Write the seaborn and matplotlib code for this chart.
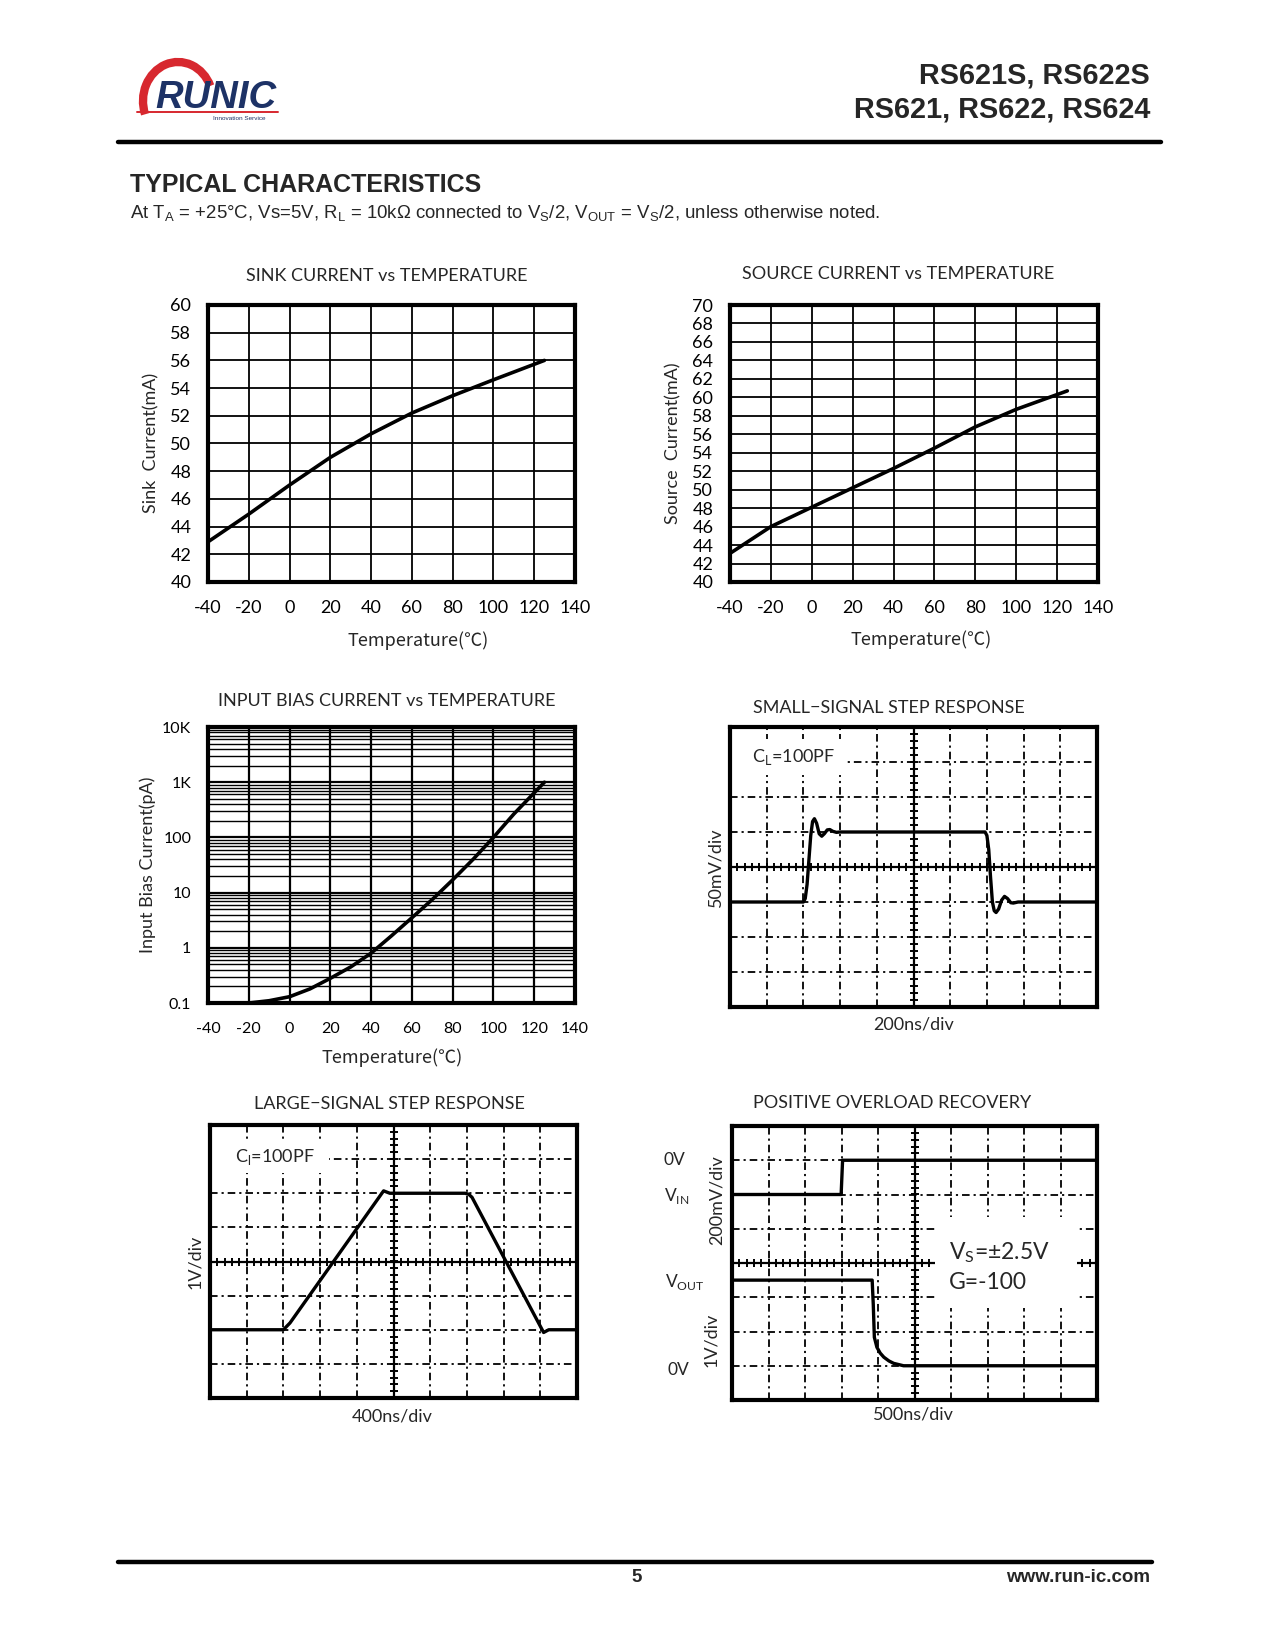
import numpy as np
import matplotlib
matplotlib.use("Agg")
import matplotlib.pyplot as plt
import matplotlib.patches as mpatches
from matplotlib.ticker import LogLocator, NullFormatter
import seaborn as sns

# ---- values ----
temp = [-40, -20, 0, 20, 40, 60, 80, 100, 125]
sink_ma = [42.9, 44.9, 47.0, 49.0, 50.7, 52.2, 53.45, 54.6, 56.0]
source_ma = [43.1, 46.0, 48.1, 50.2, 52.3, 54.5, 56.8, 58.7, 60.7]

bias_temp = [-20, -10, 0, 10, 20, 30, 40, 50, 60, 70, 80, 90, 100, 110, 125]
bias_pa = [0.1, 0.11, 0.13, 0.18, 0.28, 0.45, 0.8, 1.65, 3.5, 7.5, 17, 40, 100, 265, 1000]

temp_ticks = [-40, -20, 0, 20, 40, 60, 80, 100, 120, 140]
sink_ticks = list(range(40, 61, 2))
source_ticks = list(range(40, 71, 2))
bias_ticks = [0.1, 1, 10, 100, 1000, 10000]
bias_labels = ["0.1", "1", "10", "100", "1K", "10K"]

# scope traces in screen divisions (x 0..10, y -4..4, 0 = centre line)
small_t = [0, 2.0, 2.05, 2.1, 2.15, 2.2, 2.25, 2.3, 2.36, 2.43, 2.5, 2.57, 2.65, 2.72, 2.8, 2.9, 3.0,
           6.95, 7.0, 7.05, 7.1, 7.15, 7.2, 7.25, 7.32, 7.4, 7.48, 7.56, 7.65, 7.72, 7.85, 10]
small_v = [-1, -1, -0.9, -0.5, 0.2, 0.9, 1.3, 1.38, 1.25, 0.95, 0.88, 0.95, 1.06, 1.07, 1.02, 0.99, 1.0,
           1.0, 0.9, 0.5, -0.3, -1.0, -1.25, -1.3, -1.2, -0.95, -0.84, -0.9, -1.02, -1.03, -1.0, -1]

large_t = [0, 2.0, 2.18, 4.73, 4.9, 6.95, 7.05, 7.14, 9.09, 9.23, 10]
large_v = [-2, -2, -1.8, 2.07, 2.0, 2.0, 1.97, 1.88, -2.08, -2.0, -2.0]

ovl_in_t = [0, 2.99, 3.03, 10]
ovl_in_v = [2, 2, 3, 3]
ovl_out_t = [0, 3.84, 3.87, 3.9, 3.97, 4.06, 4.16, 4.3, 4.43, 4.7, 10]
ovl_out_v = [-0.5, -0.5, -1.2, -2.17, -2.46, -2.63, -2.75, -2.86, -2.93, -3.0, -3.0]

sns.set_theme(style="white")
plt.rcParams["font.family"] = ["Lato", "Noto Sans CJK SC", "DejaVu Sans"]
HEAD = ["Liberation Sans", "DejaVu Sans"]
CJK = ["Noto Sans CJK SC", "DejaVu Sans"]

W, H = 1275, 1651
fig = plt.figure(figsize=(W / 100, H / 100), dpi=100)
bg = fig.add_axes([0, 0, 1, 1])
bg.set_xlim(0, W)
bg.set_ylim(H, 0)
bg.set_axis_off()


def place(l, t, r, b):
    return fig.add_axes([l / W, 1 - b / H, (r - l) / W, (b - t) / H])


# ---- logo ----
red, navy = "#d7282f", "#1d3266"
bg.add_patch(mpatches.Arc((178, 101), 70, 78, theta1=158, theta2=335, lw=6, color=red))
bg.plot([137, 278], [112, 112], color=red, lw=1.4)
bg.text(155, 108, "RUNIC", color=navy, fontsize=27.5, fontweight="bold", fontstyle="italic",
        family=HEAD, va="baseline")
bg.text(213, 118.5, "Innovation Service", color=navy, fontsize=4.6, family=HEAD, va="center")

# ---- header / footer ----
bg.text(1150, 76, "RS621S, RS622S", ha="right", va="center", fontsize=20.8, fontweight="bold", family=HEAD)
bg.text(1150, 109, "RS621, RS622, RS624", ha="right", va="center", fontsize=20.8, fontweight="bold", family=HEAD)
bg.plot([118, 1161], [142.5, 142.5], color="black", lw=3.2)
bg.text(130, 185, "TYPICAL CHARACTERISTICS", va="center", fontsize=18, fontweight="bold", family=HEAD)
bg.text(130, 214, r"At T$_\mathregular{A}$ = +25°C, Vs=5V, R$_\mathregular{L}$ = 10kΩ connected to "
        r"V$_\mathregular{S}$/2, V$_\mathregular{OUT}$ = V$_\mathregular{S}$/2, unless otherwise noted.",
        va="center", fontsize=13.4, family=HEAD)
bg.plot([118, 1152], [1562, 1562], color="black", lw=3.2)
bg.text(637, 1578, "5", ha="center", va="center", fontsize=13.5, fontweight="bold", family=HEAD)
bg.text(1150, 1578, "www.run-ic.com", ha="right", va="center", fontsize=13.5, fontweight="bold", family=HEAD)


def frame(ax):
    for s in ax.spines.values():
        s.set_visible(True)
        s.set_linewidth(3)
        s.set_color("black")


def curve_axes(ax, yticks, ylabels, ylim, fs):
    frame(ax)
    ax.set_xlim(-40, 140)
    ax.set_ylim(*ylim)
    ax.set_xticks(temp_ticks, labels=[str(t) for t in temp_ticks])
    ax.set_yticks(yticks, labels=ylabels)
    ax.tick_params(length=0, labelsize=fs, colors="black")
    ax.tick_params(axis="x", pad=13)
    ax.tick_params(axis="y", pad=12)
    ax.grid(True, color="black", lw=1.3)
    ax.set_xlabel("")
    ax.set_ylabel("")


# ---- sink current ----
ax1 = place(208, 305, 575, 582)
sns.lineplot(x=temp, y=sink_ma, ax=ax1, color="black", lw=2.6)
curve_axes(ax1, sink_ticks, [str(v) for v in sink_ticks], (40, 60), 13)
bg.text(387, 276, "SINK CURRENT vs TEMPERATURE", ha="center", va="center", fontsize=13)
bg.text(418, 641, "Temperature(℃)", ha="center", va="center", fontsize=13, family=CJK)
bg.text(151, 443, "Sink  Current(mA)", ha="center", va="center", rotation=90, fontsize=13)

# ---- source current ----
ax2 = place(730, 305, 1098, 582)
sns.lineplot(x=temp, y=source_ma, ax=ax2, color="black", lw=2.6)
curve_axes(ax2, source_ticks, [str(v) for v in source_ticks], (40, 70), 13)
bg.text(898, 274, "SOURCE CURRENT vs TEMPERATURE", ha="center", va="center", fontsize=13)
bg.text(921, 640, "Temperature(℃)", ha="center", va="center", fontsize=13, family=CJK)
bg.text(673, 443, "Source  Current(mA)", ha="center", va="center", rotation=90, fontsize=13)

# ---- input bias current ----
ax3 = place(208, 727, 575, 1003)
sns.lineplot(x=bias_temp, y=bias_pa, ax=ax3, color="black", lw=2.6)
ax3.set_yscale("log")
curve_axes(ax3, bias_ticks, bias_labels, (0.1, 10000), 11.5)
ax3.tick_params(axis="x", pad=14)
ax3.yaxis.set_minor_locator(LogLocator(base=10, subs=np.arange(2, 10)))
ax3.yaxis.set_minor_formatter(NullFormatter())
ax3.tick_params(which="minor", length=0)
ax3.grid(True, which="minor", axis="y", color="black", lw=1.0)
ax3.grid(True, which="major", color="black", lw=1.6)
bg.text(387, 701, "INPUT BIAS CURRENT vs TEMPERATURE", ha="center", va="center", fontsize=13)
bg.text(392, 1058, "Temperature(℃)", ha="center", va="center", fontsize=13, family=CJK)
bg.text(148, 865, "Input Bias Current(pA)", ha="center", va="center", rotation=90, fontsize=13)

DASHDOT = (0, (4.2, 2.2, 1.2, 2.2))


def scope(ax, boxes):
    frame(ax)
    ax.set_xlim(0, 10)
    ax.set_ylim(-4, 4)
    ax.set_xticks([])
    ax.set_yticks([])
    for x in [1, 2, 3, 4, 6, 7, 8, 9]:
        ax.axvline(x, color="black", lw=1.3, ls=DASHDOT, zorder=1)
    for y in [-3, -2, -1, 1, 2, 3]:
        ax.axhline(y, color="black", lw=1.3, ls=DASHDOT, zorder=1)
    ax.axhline(0, color="black", lw=1.6, zorder=1)
    ax.axvline(5, color="black", lw=1.6, zorder=1)
    xm = np.arange(0.2, 10, 0.2)
    ym = np.arange(-3.8, 4, 0.2)
    ax.plot(xm, np.zeros_like(xm), ls="none", marker="|", ms=6, mew=1.4, color="black", zorder=1)
    ax.plot(np.full_like(ym, 5), ym, ls="none", marker="_", ms=6, mew=1.4, color="black", zorder=1)
    for (x0, y0, x1, y1) in boxes:
        ax.add_patch(mpatches.Rectangle((x0, y0), x1 - x0, y1 - y0, facecolor="white",
                                        edgecolor="none", zorder=2))


# ---- small-signal step ----
ax4 = place(730, 727, 1097, 1007)
scope(ax4, [(0.05, 2.62, 3.2, 3.65)])
sns.lineplot(x=small_t, y=small_v, ax=ax4, color="black", lw=2.4, sort=False, estimator=None, zorder=3)
ax4.text(0.6, 3.13, r"C$_\mathregular{L}$=100PF", va="center", fontsize=13, zorder=4)
ax4.set_xlabel("")
ax4.set_ylabel("")
bg.text(889, 708, "SMALL\u2212SIGNAL STEP RESPONSE", ha="center", va="center", fontsize=13)
bg.text(914, 1024, "200ns/div", ha="center", va="center", fontsize=13)
bg.text(715, 867, "50mV/div", ha="center", va="center", rotation=90, fontsize=13)

# ---- large-signal step ----
ax5 = place(210, 1125, 577, 1398)
scope(ax5, [(0.05, 2.6, 3.25, 3.6)])
sns.lineplot(x=large_t, y=large_v, ax=ax5, color="black", lw=2.4, sort=False, estimator=None, zorder=3)
ax5.text(0.68, 3.05, r"C$_\mathregular{l}$=100PF", va="center", fontsize=13, zorder=4)
ax5.set_xlabel("")
ax5.set_ylabel("")
bg.text(389, 1104, "LARGE\u2212SIGNAL STEP RESPONSE", ha="center", va="center", fontsize=13)
bg.text(392, 1417, "400ns/div", ha="center", va="center", fontsize=13)
bg.text(195, 1262, "1V/div", ha="center", va="center", rotation=90, fontsize=13)

# ---- positive overload recovery ----
ax6 = place(732, 1126, 1097, 1400)
scope(ax6, [(5.57, -1.3, 9.45, 1.35)])
sns.lineplot(x=ovl_in_t, y=ovl_in_v, ax=ax6, color="black", lw=2.4, sort=False, estimator=None, zorder=3)
sns.lineplot(x=ovl_out_t, y=ovl_out_v, ax=ax6, color="black", lw=2.4, sort=False, estimator=None, zorder=3)
ax6.text(5.95, 0.3, r"V$_\mathregular{S}$=±2.5V", va="center", fontsize=16.5, zorder=4)
ax6.text(5.95, -0.57, "G=-100", va="center", fontsize=16.5, zorder=4)
ax6.set_xlabel("")
ax6.set_ylabel("")
bg.text(892, 1103, "POSITIVE OVERLOAD RECOVERY", ha="center", va="center", fontsize=13)
bg.text(913, 1415, "500ns/div", ha="center", va="center", fontsize=13)
bg.text(717, 1200, "200mV/div", ha="center", va="center", rotation=90, fontsize=13)
bg.text(711, 1340, "1V/div", ha="center", va="center", rotation=90, fontsize=13)
bg.text(664, 1160, "0V", va="center", fontsize=12.5)
bg.text(664, 1196, r"V$_\mathregular{IN}$", va="center", fontsize=12.5)
bg.text(665, 1282, r"V$_\mathregular{OUT}$", va="center", fontsize=12.5)
bg.text(667, 1370, "0V", va="center", fontsize=12.5)

fig.savefig("out.png", dpi=100, facecolor="white")
